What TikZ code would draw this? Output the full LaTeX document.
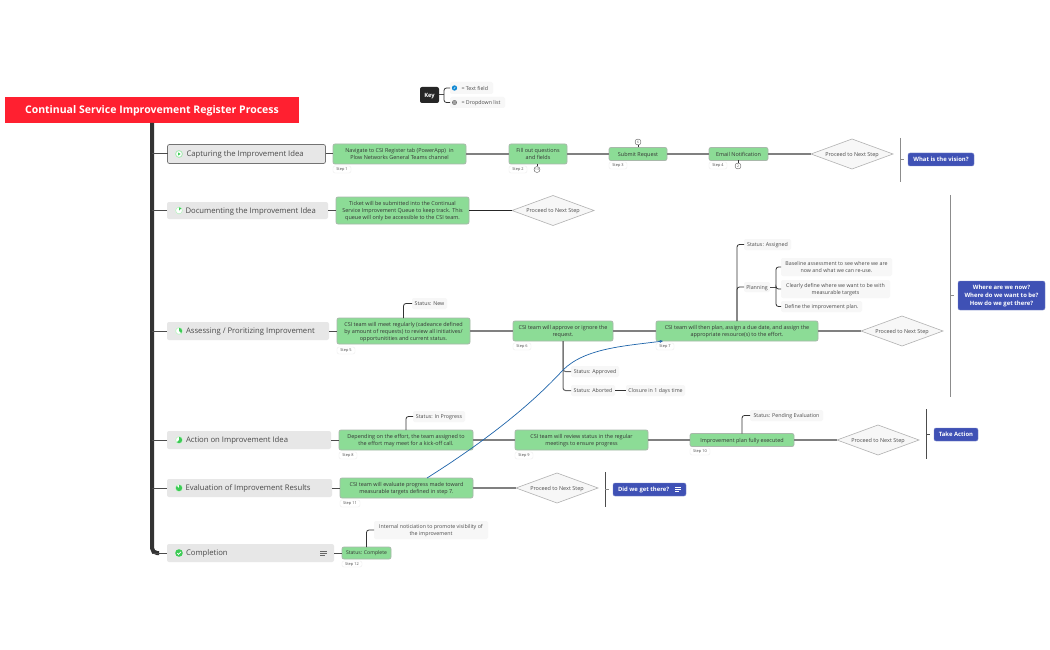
\documentclass[tikz,border=0pt]{standalone}
\usepackage{fontspec}
\setmainfont{Open Sans}
\usetikzlibrary{shapes.geometric,arrows.meta}
\definecolor{grn}{HTML}{8CDC96}
\definecolor{grnb}{HTML}{A8B8AA}
\definecolor{blu}{HTML}{3F51B5}
\definecolor{txt}{HTML}{4A4A4A}
\definecolor{lite}{HTML}{F7F7F7}
\definecolor{topicc}{HTML}{E7E7E7}
\definecolor{pie}{HTML}{3DCB55}
\definecolor{ring}{HTML}{BDF0C4}
\definecolor{ttl}{HTML}{FF2030}
\definecolor{lnk}{HTML}{1E64AA}
\tikzset{
 box/.style={inner sep=0pt,outer sep=0pt,align=center,rounded corners=2pt,text depth=0pt},
 titlebox/.style={box,rounded corners=0pt,fill=ttl,text=white,font=\fontsize{10.5}{11}\bfseries\selectfont},
 topic/.style={box,fill=topicc},
 topictxt/.style={inner sep=0pt,outer sep=0pt,anchor=west,yshift=-.5pt,text=txt,font=\fontsize{7.7}{9}\selectfont},
 gbox/.style={box,fill=grn,draw=grnb,line width=.8pt,text=txt!70!black,font=\fontsize{5.45}{7}\selectfont},
 pill/.style={box,fill=lite,text=txt,font=\fontsize{5.3}{6.8}\selectfont},
 steplab/.style={box,fill=white,draw=black!7,line width=.4pt,text=txt,font=\fontsize{3.9}{4}\selectfont},
 dia/.style={diamond,inner sep=0pt,outer sep=0pt,aspect=2.7,text depth=0pt,fill=lite,draw=black!30,line width=.6pt,text=txt,font=\fontsize{5.45}{7}\selectfont},
 bluebox/.style={box,fill=blu,draw=blu!70,line width=.4pt,text=white,font=\fontsize{5.9}{8}\bfseries\selectfont},
 keybox/.style={box,fill=black!85,text=white,font=\fontsize{5.8}{7}\bfseries\selectfont},
 lefttxt/.style={inner sep=0pt,outer sep=0pt,anchor=west},
 marker/.style={circle,draw=txt,fill=white,line width=.35pt,inner sep=0pt,minimum size=6pt,text=txt,font=\fontsize{3.2}{4}\selectfont},
 flow/.style={draw=black!50,line width=1.4pt},
 dk/.style={draw=black!70,line width=1pt},
 branch/.style={draw=black!80,line width=.8pt,rounded corners=2.5pt},
 sep/.style={draw=black!45,line width=.9pt},
 spine/.style={draw=black!80,line width=4pt,rounded corners=5pt},
 link/.style={draw=lnk,line width=.7pt,-{Stealth[length=3.5pt,width=3pt]}}
}
\newcommand{\bx}[7]{%
 \pgfmathsetmacro\bxw{#4-#2}\pgfmathsetmacro\bxh{#5-#3}%
 \pgfmathsetmacro\bxx{(#4+#2)/2}\pgfmathsetmacro\bxy{(#5+#3)/2}%
 \node[#6,minimum width=\bxw pt,minimum height=\bxh pt] (#1) at (\bxx,\bxy) {#7};}
\newcommand{\prog}[2]{% y, sweep degrees
 \fill[white] (179,#1) circle (3.6);
 \draw[ring,line width=.7pt] (179,#1) circle (3.4);
 \fill[pie] (179,#1) -- +(0,-3.2) arc[start angle=-90,delta angle=#2,radius=3.2] -- cycle;}
\newcommand{\menuic}[3]{% x, y, colour
 \draw[line width=.55pt,#3] (#1-3.2,#2-2.2) -- +(6.4,0) (#1-3.2,#2) -- +(6.4,0) (#1-3.2,#2+2.2) -- +(4.2,0);}
\begin{document}
\begin{tikzpicture}[x=1pt,y=-1pt]
\useasboundingbox[fill=white] (0,0) rectangle (1050,650);
% title
\bx{title}{5}{97}{299}{123}{titlebox}{Continual Service Improvement Register Process}
% topics
\bx{t1}{167.5}{144.5}{325.5}{163.5}{topic,draw=black!55,line width=.7pt}{}
\bx{t2}{167}{202}{328}{219}{topic}{}
\bx{t3}{167}{322}{329}{340}{topic}{}
\bx{t4}{167}{431}{331}{449}{topic}{}
\bx{t5}{167}{479}{332}{497}{topic}{}
\bx{t6}{167}{544}{334}{562}{topic}{}
\node[topictxt] (t1t) at (186.5,154) {Capturing the Improvement Idea};
\node[topictxt] (t2t) at (185.5,210.5) {Documenting the Improvement Idea};
\node[topictxt] (t3t) at (186,331) {Assessing / Proritizing Improvement};
\node[topictxt] (t4t) at (186,440) {Action on Improvement Idea};
\node[topictxt] (t5t) at (185.5,488) {Evaluation of Improvement Results};
\node[topictxt] (t6t) at (186,553) {Completion};
% green steps
\bx{s1}{333}{144}{466}{164}{gbox}{Navigate to CSI Register tab (PowerApp)\ \ in\\Plow Networks General Teams channel}
\bx{s2}{509}{144}{567}{164}{gbox}{Fill out questions\\and fields}
\bx{s3}{609}{147.5}{667}{160.5}{gbox}{Submit Request}
\bx{s4}{709}{147.5}{768}{160.5}{gbox}{Email Notification}
\bx{sd}{336}{197}{469}{224}{gbox}{Ticket will be submitted into the Continual\\Service Improvement Queue to keep track. This\\queue will only be accessible to the CSI team.}
\bx{s5}{337}{318}{470}{344}{gbox}{CSI team will meet regularly (cadeance defined\\by amount of requests) to review all initiatives/\\opportunitities and current status.}
\bx{s6}{513}{321}{613}{341}{gbox}{CSI team will approve or ignore the\\request.}
\bx{s7}{656}{321}{818}{341}{gbox}{CSI team will then plan, assign a due date, and assign the\\appropriate resource(s) to the effort.}
\bx{s8}{339}{430}{473}{450}{gbox}{Depending on the effort, the team assigned to\\the effort may meet for a kick-off call.}
\bx{s9}{515}{430}{648}{450}{gbox}{CSI team will review status in the regular\\meetings to ensure progress}
\bx{s10}{690}{433.5}{794}{446.5}{gbox}{Improvement plan fully executed}
\bx{s11}{340}{478}{473}{498}{gbox}{CSI team will evaluate progress made toward\\measurable targets defined in step 7.}
\bx{s12}{342}{547}{391}{559}{gbox,font=\fontsize{5.1}{7}\selectfont}{Status: Complete}
% diamonds
\bx{d1}{811}{139}{893}{169}{dia}{Proceed to Next Step}
\bx{d2}{512}{195.5}{594}{225.5}{dia}{Proceed to Next Step}
\bx{d3}{861}{316}{943}{346}{dia}{Proceed to Next Step}
\bx{d4}{837}{425}{919}{455}{dia}{Proceed to Next Step}
\bx{d5}{516}{473}{598}{503}{dia}{Proceed to Next Step}
% status pills
\bx{pnew}{412}{298}{447}{309}{pill}{Status: New}
\bx{pprog}{413}{411}{465}{422}{pill}{Status: In Progress}
\bx{ppend}{750}{410}{823}{421}{pill}{Status: Pending Evaluation}
\bx{pnote}{374}{521}{488}{539}{pill}{Internal noticiation to promote visibility of\\the improvement}
\bx{pasg}{744}{239}{791}{250}{pill}{Status: Assigned}
\bx{pplan}{744}{282}{770}{292}{pill}{Planning}
\bx{pb1}{781}{258}{892}{276}{pill}{Baseline assessment to see where we are\\now and what we can re-use.}
\bx{pb2}{781}{280}{890}{298}{pill}{Clearly define where we want to be with\\measurable targets}
\bx{pb3}{781}{301}{862}{312}{pill}{Define the improvement plan.}
\bx{papp}{571}{366}{619}{377}{pill}{Status: Approved}
\bx{pabo}{571}{385}{615}{396}{pill}{Status: Aborted}
\bx{pclo}{626}{385}{685}{396}{pill}{Closure in 1 days time}
% step labels
\bx{l1}{333}{166}{351}{173}{steplab}{Step 1}
\bx{l2}{509}{166}{527}{173}{steplab}{Step 2}
\bx{l3}{609}{162}{627}{169}{steplab}{Step 3}
\bx{l4}{709}{162}{727}{169}{steplab}{Step 4}
\bx{l5}{337}{347}{355}{354}{steplab}{Step 5}
\bx{l6}{513}{343}{531}{350}{steplab}{Step 6}
\bx{l7}{656}{343}{674}{350}{steplab}{Step 7}
\bx{l8}{339}{452}{357}{459}{steplab}{Step 8}
\bx{l9}{515}{452}{533}{459}{steplab}{Step 9}
\bx{l10}{690}{448}{710}{455}{steplab}{Step 10}
\bx{l11}{340}{500}{360}{507}{steplab}{Step 11}
\bx{l12}{342}{561}{362}{567}{steplab}{Step 12}
% blue question boxes
\bx{q1}{908}{153}{974}{166}{bluebox}{What is the vision?}
\bx{q2}{958}{281}{1045}{310}{bluebox}{Where are we now?\\Where do we want to be?\\How do we get there?}
\bx{q3}{934}{428}{978}{441}{bluebox}{Take Action}
\bx{q4}{613}{483}{686}{496}{bluebox}{}
\node[lefttxt,text depth=0pt,text=white,font=\fontsize{5.9}{8}\bfseries\selectfont] (q4t) at (618,489.5) {Did we get there?};
% key
\bx{key}{420}{87}{439}{103}{keybox}{Key}
\bx{ktf}{450}{82}{493}{94}{pill}{}
\bx{kdd}{450}{97}{505}{108}{pill}{}
\node[lefttxt,text depth=0pt,text=txt,font=\fontsize{5.3}{7}\selectfont] (ktft) at (461.5,88) {= Text field};
\node[lefttxt,text depth=0pt,text=txt,font=\fontsize{5.3}{7}\selectfont] (kddt) at (461.5,102.5) {= Dropdown list};
\fill[cyan!70!blue] (454.5,88) circle (2.7);
\draw[white,line width=.5pt] (453.7,89) -- (455.3,87);
\draw[black!55,line width=.5pt] (454.5,102.5) circle (2.2) (452.3,102.5) -- (456.7,102.5) (452.7,101.3) -- (456.3,101.3) (452.7,103.7) -- (456.3,103.7);
% spine
\coordinate (sj) at (152,123);
\draw[spine] (title.south -| sj) -- (152,553) -- (159,553);
\foreach \t in {t1,t2,t3,t4,t5,t6}{\draw[dk] (sj |- \t.west) -- (\t.west);}
% horizontal links
\draw[dk] (t1.east) -- (s1.west);
\draw[flow] (s1.east) -- (s2.west);
\draw[flow] (s2.east) -- (s3.west);
\draw[flow] (s3.east) -- (s4.west);
\draw[flow] (s4.east) -- (d1.west);
\draw[dk] (t2.east) -- (sd.west);
\draw[dk,draw=black!85] (sd.east) -- (d2.west);
\draw[dk] (t3.east) -- (s5.west);
\draw[flow] (s5.east) -- (s6.west);
\draw[flow] (s6.east) -- (s7.west);
\draw[flow] (s7.east) -- (d3.west);
\draw[dk] (t4.east) -- (s8.west);
\draw[flow] (s8.east) -- (s9.west);
\draw[flow] (s9.east) -- (s10.west);
\draw[flow] (s10.east) -- (d4.west);
\draw[dk] (t5.east) -- (s11.west);
\draw[flow] (s11.east) -- (d5.west);
\draw[dk] (t6.east) -- (s12.west);
% branches
\draw[branch] (s5.north) |- (pnew.west);
\draw[branch] (s8.north) |- (pprog.west);
\draw[branch] (s10.north) |- (ppend.west);
\draw[branch] (s12.north) |- (pnote.west);
\draw[branch] (s7.north) |- (pasg.west);
\draw[branch] (s7.north) |- (pplan.west);
\coordinate (pj) at (776,287);
\draw[dk] (pplan.east) -- (pj);
\draw[branch] (pj) |- (pb1.west);
\draw[branch] (pj) |- (pb3.west);
\draw[branch] (pj) |- (pb2.west);
\draw[branch,draw=black!60,line width=1pt] (s6.south) |- (papp.west);
\draw[branch,draw=black!60,line width=1pt] (s6.south) |- (pabo.west);
\draw[dk,draw=black!80] (pabo.east) -- (pclo.west);
\coordinate (kj) at (444,95);
\draw[dk] (key.east) -- (kj);
\draw[branch] (kj) |- (ktf.west);
\draw[branch] (kj) |- (kdd.west);
% summary separators
\coordinate (a1) at (900,138); \coordinate (a2) at (900,182);
\coordinate (b1) at (950,195); \coordinate (b2) at (950,397);
\coordinate (c1) at (926,409); \coordinate (c2) at (926,459);
\coordinate (e1) at (605,472); \coordinate (e2) at (605,507);
\draw[sep] (a1) -- (a2);
\draw[sep] (b1) -- (b2);
\draw[sep,draw=black!70] (c1) -- (c2);
\draw[sep,draw=black!70] (e1) -- (e2);
\draw[sep] (a1 |- q1.west) -- +(4,0);
\draw[sep] (b1 |- q2.west) -- +(4,0);
\draw[sep,draw=black!70] (c1 |- q3.west) -- +(4,0);
\draw[sep] (e1 |- q4.west) -- +(4,0);
% markers
\node[marker] (m2) at (537,169.5) {13};
\node[marker] (m3) at (638,142) {6};
\node[marker] (m4) at (738,166) {2};
\draw[draw=black!80,line width=.6pt] (s2.south -| m2) -- (m2);
\draw[draw=black!80,line width=.6pt] (s3.north -| m3) -- (m3);
\draw[draw=black!80,line width=.6pt] (s4.south -| m4) -- (m4);
% progress icons
\fill[white] (179,154) circle (3.6);
\draw[ring!70!pie,line width=.7pt] (179,154) circle (3.4);
\fill[pie] (178,152.4) -- (180.6,154) -- (178,155.6) -- cycle;
\prog{210.5}{45}
\prog{331}{135}
\prog{440}{225}
\prog{488}{315}
\fill[pie] (179,553) circle (3.8);
\draw[white,line width=.7pt] (177.2,553.1) -- (178.5,554.5) -- (181,551.8);
% menu icons
\menuic{323.5}{553}{black!60}
\menuic{678}{489.5}{white}
% cross link
\coordinate (lk1) at (427,478);
\coordinate (lkm) at (563,370);
\coordinate (lk2) at (663,341);
\draw[link] (lk1) .. controls (500,432) and (540,395) .. (lkm) .. controls (585,348) and (625,346) .. (lk2);
\end{tikzpicture}
\end{document}
